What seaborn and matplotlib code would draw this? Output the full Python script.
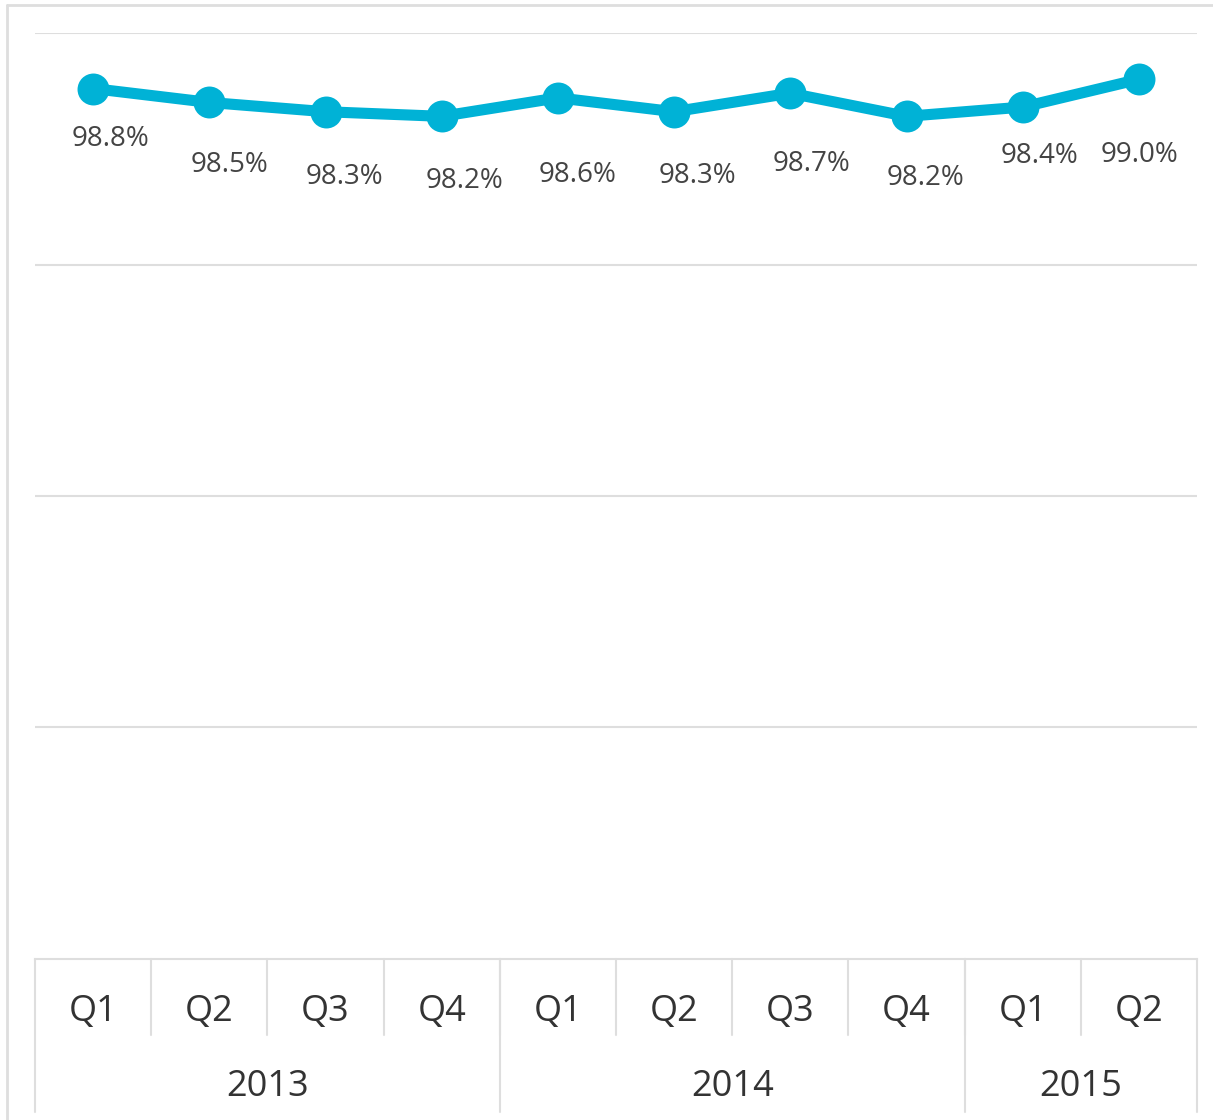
# Quarterly rate line chart with a two-level category table under the x axis

import numpy as np
import pandas as pd
import seaborn as sns
import matplotlib.pyplot as plt
from matplotlib.lines import Line2D

sns.set_style('white')
plt.rcParams['font.family'] = ['Open Sans', 'DejaVu Sans']

quarters = ['Q1', 'Q2', 'Q3', 'Q4', 'Q1', 'Q2', 'Q3', 'Q4', 'Q1', 'Q2']
years = ['2013', '2014', '2015']
quarters_per_year = [4, 4, 2]
rate = [98.8, 98.5, 98.3, 98.2, 98.6, 98.3, 98.7, 98.2, 98.4, 99.0]

# label placement (pixels from the point), to keep labels from overlapping
label_dx = [17, 20, 19, 23, 20, 23, 21, 19, 17, 1]
label_dy = [50, 63, 65, 65, 77, 64, 71, 62, 49, 76]

line_color = '#00b2d6'
grid_color = '#dedede'

df = pd.DataFrame({'pos': np.arange(len(rate)), 'rate': rate})

W, H = 1213, 1120
fig = plt.figure(figsize=(W / 100, H / 100), dpi=100)
ax_left, ax_right, ax_top, ax_bottom = 35, 1197, 33, 959
ax = fig.add_axes([ax_left / W, 1 - ax_bottom / H,
                   (ax_right - ax_left) / W, (ax_bottom - ax_top) / H])

sns.lineplot(data=df, x='pos', y='rate', ax=ax, color=line_color,
             linewidth=8, marker='o', markersize=23, markeredgewidth=0,
             zorder=3)

ax.set_xlim(-0.5, len(rate) - 0.5)
ax.set_ylim(80, 100)
ax.set_yticks([85, 90, 95, 100])
ax.yaxis.grid(True, color=grid_color, linewidth=1.5)
ax.set_xticks([])
ax.set_yticklabels([])
ax.tick_params(left=False, bottom=False)
ax.set_xlabel('')
ax.set_ylabel('')
for side in ['left', 'right', 'top']:
    ax.spines[side].set_visible(False)
ax.spines['bottom'].set_color(grid_color)
ax.spines['bottom'].set_linewidth(1.5)

for i, v in enumerate(rate):
    ax.annotate(f'{v:.1f}%', (i, v), xytext=(label_dx[i], -label_dy[i]),
                textcoords='offset pixels', ha='center', va='center',
                fontsize=20, color='#444444')

# category table under the axis
plot_h = ax_bottom - ax_top
q_row = (1035 - ax_bottom) / plot_h
y_row = (1112 - ax_bottom) / plot_h
trans = ax.get_xaxis_transform()

for i, q in enumerate(quarters):
    ax.text(i, -(1012 - ax_bottom) / plot_h, q, transform=trans,
            ha='center', va='center', fontsize=26, color='#333333')

for b in np.arange(0.5, len(rate) - 1, 1.0):
    ax.add_line(Line2D([b, b], [0, -q_row], transform=trans,
                       color=grid_color, linewidth=1.5, clip_on=False))

edges = np.concatenate([[0], np.cumsum(quarters_per_year)]) - 0.5
for e in edges:
    ax.add_line(Line2D([e, e], [0, -y_row], transform=trans,
                       color=grid_color, linewidth=1.5, clip_on=False))
for k, yr in enumerate(years):
    mid = (edges[k] + edges[k + 1]) / 2
    ax.text(mid, -(1087 - ax_bottom) / plot_h, yr, transform=trans,
            ha='center', va='center', fontsize=26, color='#333333')

# outer frame (left and top)
fig.add_artist(Line2D([7 / W, 7 / W], [0, 1 - 5 / H], color=grid_color,
                      linewidth=2, transform=fig.transFigure))
fig.add_artist(Line2D([7 / W, 1], [1 - 5 / H, 1 - 5 / H], color=grid_color,
                      linewidth=2, transform=fig.transFigure))

fig.savefig('out.png', dpi=100)
